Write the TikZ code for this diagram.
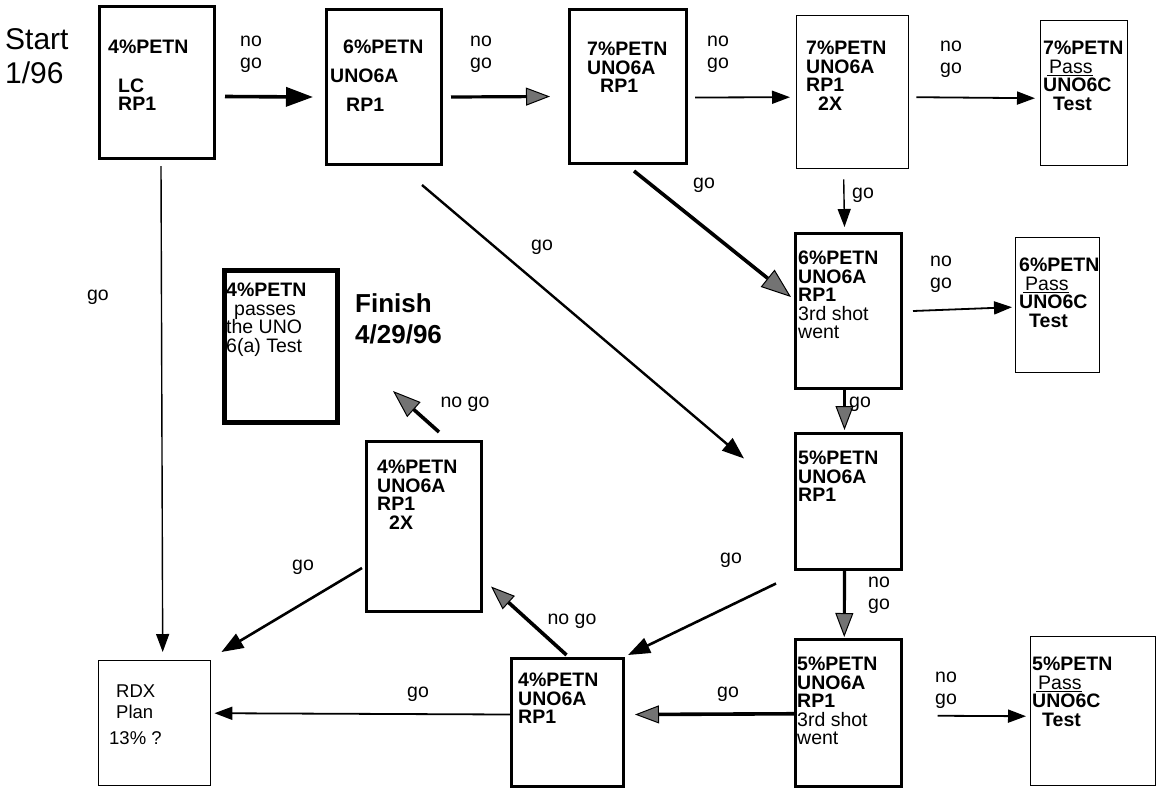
\documentclass[tikz,border=0pt]{standalone}
\usepackage{fontspec}
\setmainfont{Liberation Sans}
\usetikzlibrary{arrows.meta,calc}
\begin{document}
\begin{tikzpicture}[x=1pt,y=-1pt,
  bx/.style={draw, rectangle, inner sep=0pt, anchor=north west},
  thk/.style={line width=3pt},
  vthk/.style={line width=5pt},
  thn/.style={line width=1.4pt},
  txt/.style={inner sep=0pt, anchor=north west, align=left, font=\fontsize{19.5}{18.5}\selectfont\bfseries},
  lbl/.style={inner sep=0pt, anchor=north west, align=left, font=\fontsize{19.5}{22}\selectfont},
  glbl/.style={inner sep=0pt, anchor=center, font=\fontsize{19.5}{22}\selectfont},
  big/.style={inner sep=0pt, anchor=north west, align=left},
  arrb/.style={-{Triangle[length=18pt,width=13pt]}, line width=1.6pt},
  arrk/.style={-{Triangle[length=22pt,width=16pt]}, line width=2.6pt},
  arrg/.style={-{Triangle[length=24pt,width=18pt,fill=black!55,line width=1pt]}, line width=3.2pt},
  arrB/.style={-{Triangle[length=27pt,width=19pt]}, line width=3.6pt}
]
\useasboundingbox (0,0) rectangle (1156,788);
\fill[white] (0,0) rectangle (1156,788);

% boxes
\node[bx,thk,minimum width=115pt,minimum height=152pt] (b1) at (98,5) {};
\node[bx,thk,minimum width=115pt,minimum height=155pt] (b2) at (325,8) {};
\node[bx,thk,minimum width=117pt,minimum height=154pt] (b3) at (568,8) {};
\node[bx,thn,minimum width=112pt,minimum height=153pt] (b4) at (796,15) {};
\node[bx,thn,minimum width=87pt,minimum height=145pt] (b5) at (1040,20) {};
\node[bx,thk,minimum width=106pt,minimum height=155pt] (b6) at (794,232) {};
\node[bx,thn,minimum width=84pt,minimum height=135pt] (b7) at (1015,237) {};
\node[bx,thk,minimum width=106pt,minimum height=136pt] (b8) at (794,432) {};
\node[bx,line width=2.5pt,minimum width=106pt,minimum height=147pt] (b9) at (794,638) {};
\node[bx,thn,minimum width=125pt,minimum height=149pt] (b10) at (1030,636) {};
\node[bx,thk,minimum width=112pt,minimum height=128pt] (b11) at (510,657) {};
\node[bx,thk,minimum width=115pt,minimum height=170pt] (b12) at (365,440) {};
\node[bx,vthk,minimum width=113pt,minimum height=152pt] (b13) at (222,268) {};
\node[bx,thn,minimum width=112pt,minimum height=125pt] (b14) at (98,660) {};

% box texts
\node[txt] (t1) at (108,40) {4\%PETN\\[20pt]\hspace*{10pt}LC\\\hspace*{10pt}RP1};
\node[txt] (t2) at (330,40) {\hspace*{13pt}6\%PETN\\[10pt]UNO6A\\[11pt]\hspace*{16pt}RP1};
\node[txt] (t3) at (587,42) {7\%PETN\\UNO6A\\\hspace*{13pt}RP1};
\node[txt] (t4) at (806,41) {7\%PETN\\UNO6A\\RP1\\\hspace*{12pt}2X};
\node[txt] (t5) at (1043,41) {7\%PETN\\\hspace*{4pt}{\mdseries\underline{\hspace*{2pt}Pass}}\\UNO6C\\\hspace*{10pt}Test};
\node[txt] (t6) at (798,251) {6\%PETN\\UNO6A\\RP1\\{\mdseries 3rd shot}\\{\mdseries went}};
\node[txt] (t7) at (1019,258) {6\%PETN\\\hspace*{4pt}{\mdseries\underline{\hspace*{2pt}Pass}}\\UNO6C\\\hspace*{10pt}Test};
\node[txt] (t8) at (798,451) {5\%PETN\\UNO6A\\RP1};
\node[txt] (t9) at (797,657) {5\%PETN\\UNO6A\\RP1\\{\mdseries 3rd shot}\\{\mdseries went}};
\node[txt] (t10) at (1032,657) {5\%PETN\\\hspace*{4pt}{\mdseries\underline{\hspace*{2pt}Pass}}\\UNO6C\\\hspace*{10pt}Test};
\node[txt] (t11) at (518,673) {4\%PETN\\UNO6A\\RP1};
\node[txt] (t12) at (377,460) {4\%PETN\\UNO6A\\RP1\\\hspace*{12pt}2X};
\node[txt] (t13) at (226,283) {4\%PETN\\{\mdseries\hspace*{8pt}passes}\\{\mdseries the UNO}\\{\mdseries 6(a) Test}};
\node[txt,font=\fontsize{18.5}{21}\selectfont] (t14) at (116,685) {RDX\\Plan\\[5pt]\hspace*{-7pt}13\% ?};

% big titles
\node[big,font=\fontsize{30}{34}\selectfont] (start) at (5,28) {Start\\1/96};
\node[big,font=\fontsize{26}{31}\selectfont\bfseries] (finish) at (355,293) {Finish\\4/29/96};

% arrows
\draw[arrB] ($(b1.east)+(9,14)$) -- ($(b2.west)+(-12,10)$);
\draw[arrg] ($(b2.east)+(8,10)$) -- ($(b3.west)+(-18,10)$);
\draw[arrb,line width=1.8pt] ($(b3.east)+(7,11)$) -- ($(b4.west)+(-6,5)$);
\draw[arrb,line width=1.8pt] ($(b4.east)+(7,5)$) -- ($(b5.west)+(-5,5)$);
\draw[arrb,line width=1.4pt] ($(b1.south)+(4,6)$) -- ($(b14.north)+(8,-8)$);
\draw[arrk,line width=2.4pt] ($(b2.south)+(38,19)$) -- ($(b8.west)+(-50,-43)$);
\draw[arrg,-{Triangle[length=30pt,width=22pt,fill=black!55,line width=1pt]},line width=3.6pt] ($(b3.south)+(6,6)$) -- ($(b6.west)+(-3,-14)$);
\draw[arrb,line width=1.4pt] ($(b4.south)+(-9,10)$) -- ($(b6.north)+(-4,-5)$);
\draw[arrb,line width=1.8pt] ($(b6.east)+(10,0)$) -- ($(b7.west)+(-3,2)$);
\draw[arrg] ($(b6.south)+(-4,0)$) -- ($(b8.north)+(-4,-2)$);
\draw[arrk] ($(b8.west)+(-18,82)$) -- ($(b11.north east)+(3,-2)$);
\draw[arrg] ($(b8.south)+(-4,0)$) -- ($(b9.north)+(-4,-1)$);
\draw[arrb,line width=1.8pt] ($(b9.east)+(35,3)$) -- ($(b10.west)+(-4,5)$);
\draw[arrg,line width=3.6pt] ($(b9.west)+(0,1)$) -- ($(b11.east)+(10,-8)$);
\draw[arrg,line width=3.6pt] ($(b11.north)+(-1,-2)$) -- ($(b12.east)+(8,60)$);
\draw[arrg,-{Triangle[length=28pt,width=20pt,fill=black!55,line width=1pt]},line width=3.6pt] ($(b12.north)+(15,-8)$) -- ($(b13.south east)+(53,-34)$);
\draw[arrk] ($(b12.south west)+(-3,-45)$) -- ($(b14.north east)+(10,-8)$);
\draw[arrb,line width=1.8pt] ($(b11.west)+(0,-8)$) -- ($(b14.east)+(3,-10)$);

% labels
\node[lbl] (l1) at (240,36) {no\\go};
\node[lbl] (l2) at (470,36) {no\\go};
\node[lbl] (l3) at (707,36) {no\\go};
\node[lbl] (l4) at (940,41) {no\\go};
\node[glbl] (l5) at (98,297) {go};
\node[glbl] (l6) at (542,247) {go};
\node[glbl] (l7) at (704,185) {go};
\node[glbl] (l8) at (863,195) {go};
\node[lbl] (l9) at (930,256) {no\\go};
\node[glbl] (l10) at (860,404) {go};
\node[lbl] (l11) at (868,577) {no\\go};
\node[glbl] (l12) at (731,560) {go};
\node[lbl] (l13) at (935,672) {no\\go};
\node[glbl] (l14) at (728,694) {go};
\node[glbl] (l15) at (572,621) {no go};
\node[glbl] (l16) at (465,404) {no go};
\node[glbl] (l17) at (303,567) {go};
\node[glbl] (l18) at (418,694) {go};
\end{tikzpicture}
\end{document}
